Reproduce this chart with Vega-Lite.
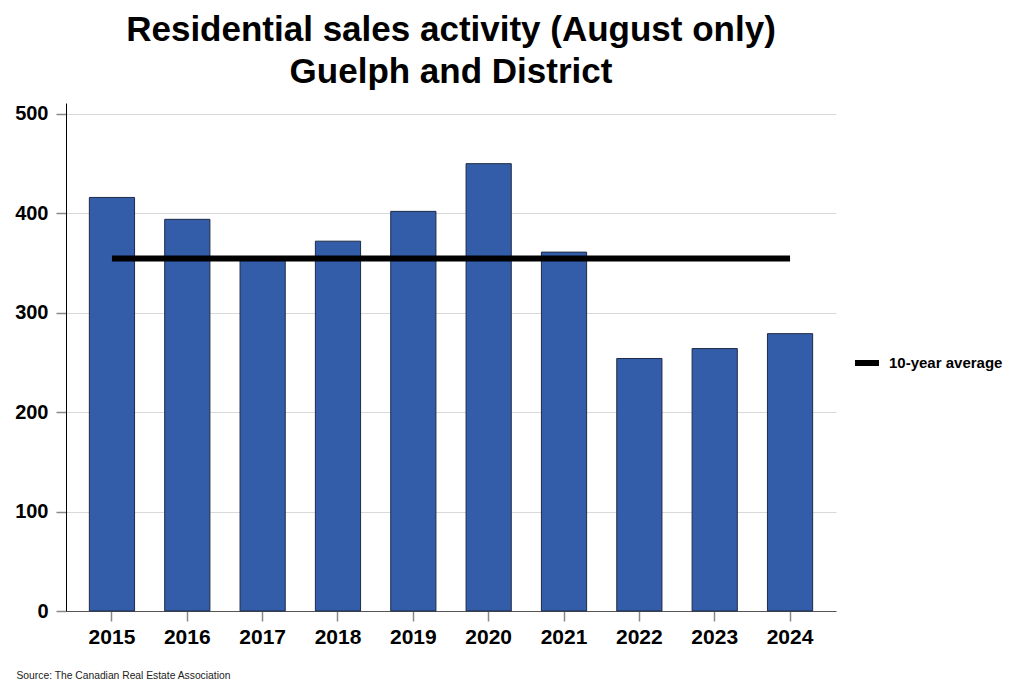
{
  "$schema": "https://vega.github.io/schema/vega-lite/v6.json",
  "autosize": {"type": "none"},
  "width": 770,
  "height": 508,
  "padding": {"left": 66, "top": 103, "right": 182, "bottom": 80},
  "background": "white",
  "title": {
    "text": ["Residential sales activity (August only)", "Guelph and District"],
    "font": "Liberation Sans",
    "fontSize": 35,
    "fontWeight": "bold",
    "color": "black",
    "anchor": "middle",
    "lineHeight": 42,
    "offset": 13
  },
  "config": {
    "view": {"stroke": null},
    "font": "Liberation Sans"
  },
  "data": {
    "values": [
      {"year": "2015", "sales": 416, "avg": 354.7, "series": "10-year average"},
      {"year": "2016", "sales": 394, "avg": 354.7, "series": "10-year average"},
      {"year": "2017", "sales": 354, "avg": 354.7, "series": "10-year average"},
      {"year": "2018", "sales": 372, "avg": 354.7, "series": "10-year average"},
      {"year": "2019", "sales": 402, "avg": 354.7, "series": "10-year average"},
      {"year": "2020", "sales": 450, "avg": 354.7, "series": "10-year average"},
      {"year": "2021", "sales": 361, "avg": 354.7, "series": "10-year average"},
      {"year": "2022", "sales": 254, "avg": 354.7, "series": "10-year average"},
      {"year": "2023", "sales": 264, "avg": 354.7, "series": "10-year average"},
      {"year": "2024", "sales": 279, "avg": 354.7, "series": "10-year average"}
    ]
  },
  "encoding": {
    "x": {
      "field": "year",
      "type": "ordinal",
      "scale": {"paddingInner": 0.4, "paddingOuter": 0.31},
      "axis": {
        "title": "Source: The Canadian Real Estate Association",
        "titleFont": "Liberation Sans",
        "titleFontSize": 10.3,
        "titleFontWeight": "normal",
        "titleColor": "#222222",
        "titleAnchor": "start",
        "titleAlign": "left",
        "titleBaseline": "alphabetic",
        "titleX": -50,
        "titleY": 67,
        "labelAngle": 0,
        "labelFont": "Liberation Sans",
        "labelFontSize": 21,
        "labelFontWeight": "bold",
        "labelColor": "black",
        "labelPadding": 5,
        "tickColor": "#888888",
        "tickSize": 10,
        "tickWidth": 1.5,
        "domainColor": "#555555",
        "domainWidth": 1.2
      }
    }
  },
  "layer": [
    {
      "mark": {"type": "bar", "color": "#335DA8", "stroke": "#1F2B45", "strokeWidth": 1},
      "encoding": {
        "y": {
          "field": "sales",
          "type": "quantitative",
          "scale": {"domain": [0, 511], "nice": false},
          "axis": {
            "title": null,
            "values": [0, 100, 200, 300, 400, 500],
            "labelFont": "Liberation Sans",
            "labelFontSize": 20,
            "labelFontWeight": "bold",
            "labelColor": "black",
            "labelPadding": 8,
            "tickColor": "#888888",
            "tickSize": 10,
            "tickWidth": 1.5,
            "domainColor": "black",
            "domainWidth": 1,
            "grid": true,
            "gridColor": "#d9d9d9",
            "gridWidth": 1
          }
        }
      }
    },
    {
      "mark": {"type": "line", "strokeWidth": 6},
      "encoding": {
        "y": {"field": "avg", "type": "quantitative"},
        "color": {
          "field": "series",
          "type": "nominal",
          "scale": {"range": ["black"]},
          "legend": {
            "title": null,
            "orient": "none",
            "legendX": 786,
            "legendY": 245,
            "symbolType": "stroke",
            "symbolStrokeWidth": 6,
            "symbolSize": 576,
            "labelFont": "Liberation Sans",
            "labelFontSize": 15,
            "labelFontWeight": "bold",
            "labelColor": "black",
            "labelOffset": 7
          }
        }
      }
    }
  ]
}
